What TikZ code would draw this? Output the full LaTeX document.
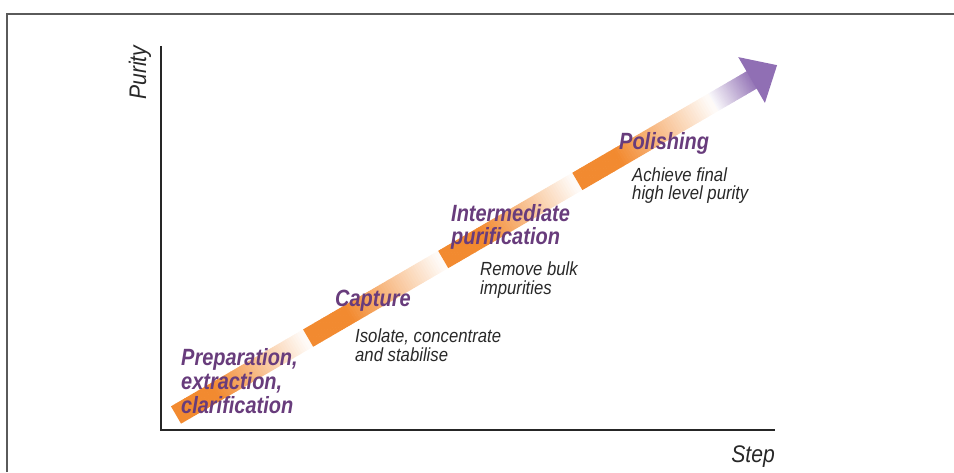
\documentclass[tikz,border=0pt]{standalone}
\usepackage{fontspec}
\setmainfont{Liberation Sans}
\newfontfamily\lblfont{Liberation Sans}[FakeStretch=0.85]
\newfontfamily\dscfont{Liberation Sans}[FakeStretch=0.88]
\newfontfamily\axfont{Liberation Sans}[FakeStretch=0.88]
\definecolor{orng}{RGB}{242,138,48}
\definecolor{purp}{RGB}{134,98,173}
\definecolor{ttlcol}{RGB}{104,60,124}
\definecolor{txtcol}{RGB}{40,40,40}
\definecolor{framecol}{RGB}{90,90,90}
\tikzset{
  ttl/.style={anchor=base west, inner sep=0pt, text=ttlcol, font=\lblfont\bfseries\itshape\fontsize{23.5}{24}\selectfont},
  desc/.style={anchor=base west, inner sep=0pt, text=txtcol, font=\dscfont\itshape\fontsize{19}{18}\selectfont},
  axlbl/.style={inner sep=0pt, text=txtcol, font=\axfont\itshape\fontsize{24}{24}\selectfont},
  axisline/.style={line width=2.6pt, draw=black!85},
}
\begin{document}
\begin{tikzpicture}[x=1pt,y=1pt]
\useasboundingbox (0,0) rectangle (954,472);
% frame
\draw[framecol, line width=1.3pt] (7,0) -- (7,458) -- (954,458);
% axes
\coordinate (O) at (161,42);
\coordinate (ytop) at (161,426);
\coordinate (xend) at (775,42);
\draw[axisline] (ytop) -- (O) -- (xend);
\node[axlbl, rotate=90, anchor=base west] (purity) at (146,372) {Purity};
\node[axlbl, anchor=base east] (step) at (775,10) {Step};
% arrow
\begin{scope}[shift={(176,57)}, rotate=30.2]
  \foreach \s/\e in {0/152.9, 152.9/309.2, 309.2/464.4, 464.4/622}{
    \foreach \i in {0,...,59}{
      \pgfmathsetmacro\a{\s+(\e-\s)*\i/60}
      \pgfmathsetmacro\b{\s+(\e-\s)*(\i+1)/60+0.5}
      \pgfmathsetmacro\t{(\i+0.5)/60}
      \pgfmathsetmacro\f{\t<0.3 ? 100 : max(4, 100*(1-(\t-0.3)/0.7))}
      \fill[orng!\f!white] (\a,-10) rectangle (\b,10);
    }
  }
  \foreach \i in {0,...,29}{
    \pgfmathsetmacro\a{622+46*\i/30}
    \pgfmathsetmacro\b{622+46*(\i+1)/30+0.5}
    \pgfmathsetmacro\t{(\i+0.5)/30}
    \pgfmathsetmacro\f{min(85, 4+85*\t)}
    \fill[purp!\f!white] (\a,-10) rectangle (\b,10);
  }
  \fill[purp!92!white] (666,-26.5) -- (695.5,0) -- (666,26.5) -- cycle;
\end{scope}
% labels
\node[ttl] (prep1) at (181,107) {Preparation,};
\node[ttl] (prep2) at (181,83) {extraction,};
\node[ttl] (prep3) at (181,59) {clarification};
\node[ttl] (capt) at (335,165) {Capture};
\node[desc] (capd1) at (355,129) {Isolate, concentrate};
\node[desc] (capd2) at (355,111) {and stabilise};
\node[ttl] (int1) at (451,250) {Intermediate};
\node[ttl] (int2) at (451,227) {purification};
\node[desc] (intd1) at (480,196) {Remove bulk};
\node[desc] (intd2) at (480,178) {impurities};
\node[ttl] (pol) at (619,322) {Polishing};
\node[desc] (pold1) at (632,290) {Achieve final};
\node[desc] (pold2) at (632,272) {high level purity};
\end{tikzpicture}
\end{document}
